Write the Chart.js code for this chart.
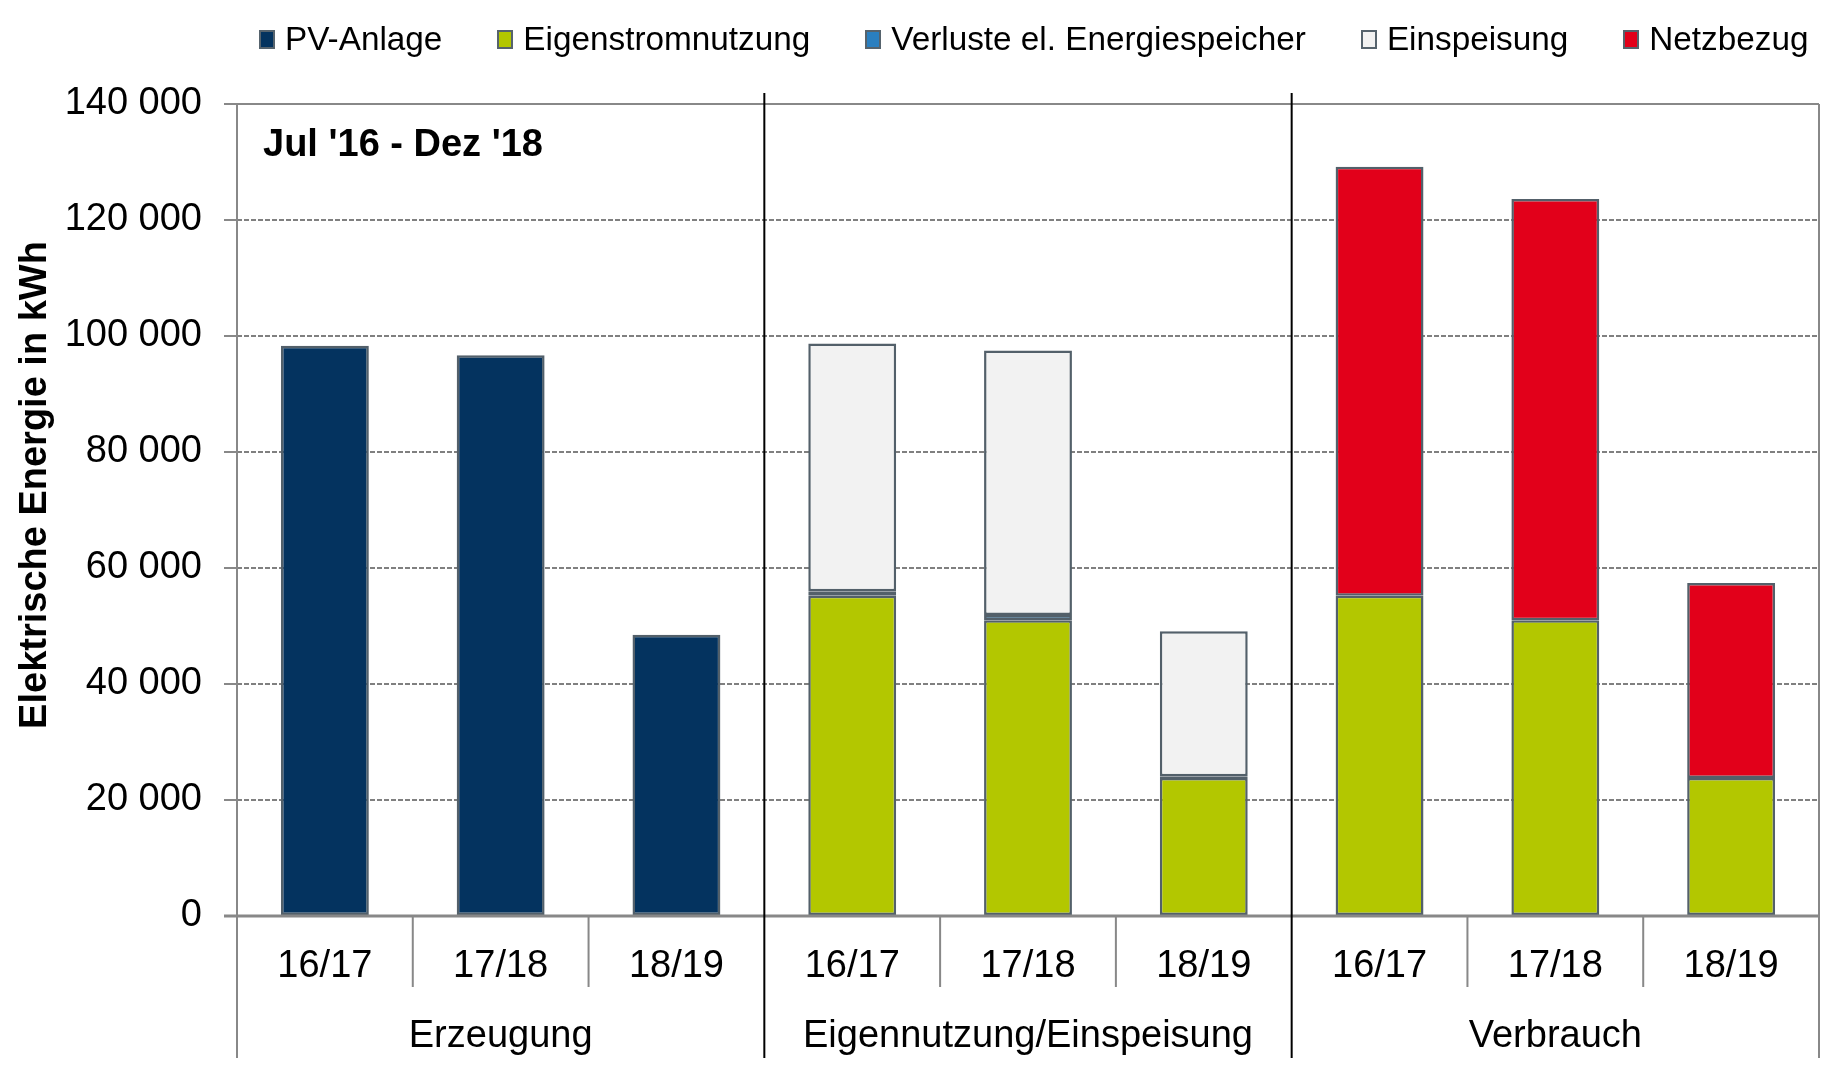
<!DOCTYPE html>
<html lang="de">
<head>
    <meta charset="UTF-8">
    <title>Elektrische Energie</title>
    <script src="https://cdn.jsdelivr.net/npm/chart.js"></script>
    <style>
        body { margin: 0; background: #fff; font-family: "Liberation Sans", Arial, sans-serif; }
        #wrap { position: relative; width: 1832px; height: 1076px; }
        #legend { position: absolute; left: 259px; top: 19px; display: flex; align-items: center; font-size: 33.3px; line-height: 40px; color: #000; }
        #legend .item { display: flex; align-items: center; margin-right: 55px; white-space: nowrap; }
        #legend .box { width: 12px; height: 15px; border: 2px solid #56636d; margin-right: 10px; }
    </style>
</head>
<body>
    <div id="wrap">
        <canvas id="energyChart"></canvas>
        <div id="legend"></div>
    </div>

    <script>
        // Kategorien und Gruppen
        const categories = ['16/17', '17/18', '18/19', '16/17', '17/18', '18/19', '16/17', '17/18', '18/19'];
        const groups = ['Erzeugung', 'Eigennutzung/Einspeisung', 'Verbrauch'];
        const yTicks = [0, 20000, 40000, 60000, 80000, 100000, 120000, 140000];

        // Werte in kWh
        const pvAnlage = [98300, 96700, 48500, null, null, null, null, null, null];
        const eigenstrom = [null, null, null, 55200, 51000, 23800, 55200, 51000, 23800];
        const verluste = [null, null, null, 800, 900, 300, null, null, null];
        const einspeisung = [null, null, null, 42700, 45600, 25000, null, null, null];
        const netzbezug = [null, null, null, null, null, null, 74000, 72600, 33600];

        const edge = '#53606a';
        const fmt = v => String(v).replace(/\B(?=(\d{3})+(?!\d))/g, ' ');

        function bar(label, data, color) {
            return {
                label: label,
                data: data,
                backgroundColor: color,
                borderColor: edge,
                borderWidth: 2.5,
                borderSkipped: false,
                stack: 'a',
                barPercentage: 0.5,
                categoryPercentage: 1
            };
        }

        // Rahmen, Trennlinien, Gruppenbeschriftung
        const decorations = {
            id: 'decorations',
            afterDraw(chart) {
                const ctx = chart.ctx;
                const a = chart.chartArea;
                const x = chart.scales.x;
                const y = chart.scales.y;
                const low = a.bottom + 142;
                const half = (x.getPixelForValue(1) - x.getPixelForValue(0)) / 2;
                ctx.save();

                // grauer Rahmen
                ctx.strokeStyle = '#888';
                ctx.lineWidth = 2;
                ctx.beginPath();
                ctx.moveTo(a.left - 13, y.getPixelForValue(140000));
                ctx.lineTo(a.right, y.getPixelForValue(140000));
                ctx.moveTo(a.left, a.top);
                ctx.lineTo(a.left, low);
                ctx.moveTo(a.right, a.top);
                ctx.lineTo(a.right, low);
                ctx.stroke();

                ctx.lineWidth = 3;
                ctx.beginPath();
                ctx.moveTo(a.left - 13, y.getPixelForValue(0));
                ctx.lineTo(a.right, y.getPixelForValue(0));
                ctx.stroke();

                // Teilstriche zwischen den Jahren
                ctx.lineWidth = 2;
                ctx.beginPath();
                for (let i = 1; i < categories.length; i++) {
                    if (i % 3 === 0) continue;
                    const bx = x.getPixelForValue(i) - half;
                    ctx.moveTo(bx, a.bottom);
                    ctx.lineTo(bx, a.bottom + 71);
                }
                ctx.stroke();

                // schwarze Gruppentrenner
                ctx.strokeStyle = '#000';
                ctx.lineWidth = 2;
                ctx.beginPath();
                for (let g = 1; g < groups.length; g++) {
                    const bx = x.getPixelForValue(g * 3) - half;
                    ctx.moveTo(bx, a.top - 11);
                    ctx.lineTo(bx, low);
                }
                ctx.stroke();

                // Gruppenbeschriftung
                ctx.fillStyle = '#000';
                ctx.font = '38px "Liberation Sans", Arial, sans-serif';
                ctx.textAlign = 'center';
                ctx.textBaseline = 'middle';
                groups.forEach((g, i) => {
                    const cx = (x.getPixelForValue(i * 3) + x.getPixelForValue(i * 3 + 2)) / 2;
                    ctx.fillText(g, cx, a.bottom + 121);
                });

                // Zeitraum
                ctx.font = 'bold 38px "Liberation Sans", Arial, sans-serif';
                ctx.textAlign = 'left';
                ctx.fillText("Jul '16 - Dez '18", a.left + 26, a.top + 42);

                // Achsentitel
                ctx.translate(36, 485);
                ctx.rotate(-Math.PI / 2);
                ctx.textAlign = 'center';
                ctx.fillText('Elektrische Energie in kWh', 0, 0);
                ctx.restore();
            }
        };

        const chart = new Chart(document.getElementById('energyChart'), {
            type: 'bar',
            data: {
                labels: categories,
                datasets: [
                    bar('PV-Anlage', pvAnlage, '#04335f'),
                    bar('Eigenstromnutzung', eigenstrom, '#b3c700'),
                    bar('Verluste el. Energiespeicher', verluste, '#2a7fc0'),
                    bar('Einspeisung', einspeisung, '#f2f2f2'),
                    bar('Netzbezug', netzbezug, '#e2001a')
                ]
            },
            options: {
                responsive: true,
                maintainAspectRatio: false,
                animation: false,
                layout: { padding: { top: 104, right: 13, left: 0, bottom: 0 } },
                plugins: {
                    legend: { display: false },
                    tooltip: { enabled: false }
                },
                scales: {
                    x: {
                        stacked: true,
                        grid: { display: false },
                        border: { display: false },
                        ticks: {
                            color: '#000',
                            font: { size: 38, family: '"Liberation Sans", Arial, sans-serif' },
                            autoSkip: false,
                            maxRotation: 0,
                            padding: 20
                        },
                        afterFit: scale => { scale.height = 160; }
                    },
                    y: {
                        stacked: true,
                        min: 0,
                        max: 140000,
                        afterBuildTicks: scale => { scale.ticks = yTicks.map(v => ({ value: v })); },
                        grid: {
                            color: c => (c.tick && (c.tick.value === 0 || c.tick.value === 140000)) ? 'rgba(0,0,0,0)' : '#808080',
                            tickColor: '#888',
                            lineWidth: 2,
                            tickLength: 13
                        },
                        border: { display: false, dash: [5, 2] },
                        ticks: {
                            color: '#000',
                            font: { size: 38, family: '"Liberation Sans", Arial, sans-serif' },
                            padding: 22,
                            callback: v => fmt(v)
                        },
                        afterFit: scale => { scale.width = 237; }
                    }
                }
            },
            plugins: [decorations]
        });

        // Legende aus den Datensätzen
        const legend = document.getElementById('legend');
        chart.data.datasets.forEach(ds => {
            const item = document.createElement('div');
            item.className = 'item';
            const box = document.createElement('span');
            box.className = 'box';
            box.style.background = ds.backgroundColor;
            item.appendChild(box);
            item.appendChild(document.createTextNode(ds.label));
            legend.appendChild(item);
        });
    </script>
</body>
</html>
